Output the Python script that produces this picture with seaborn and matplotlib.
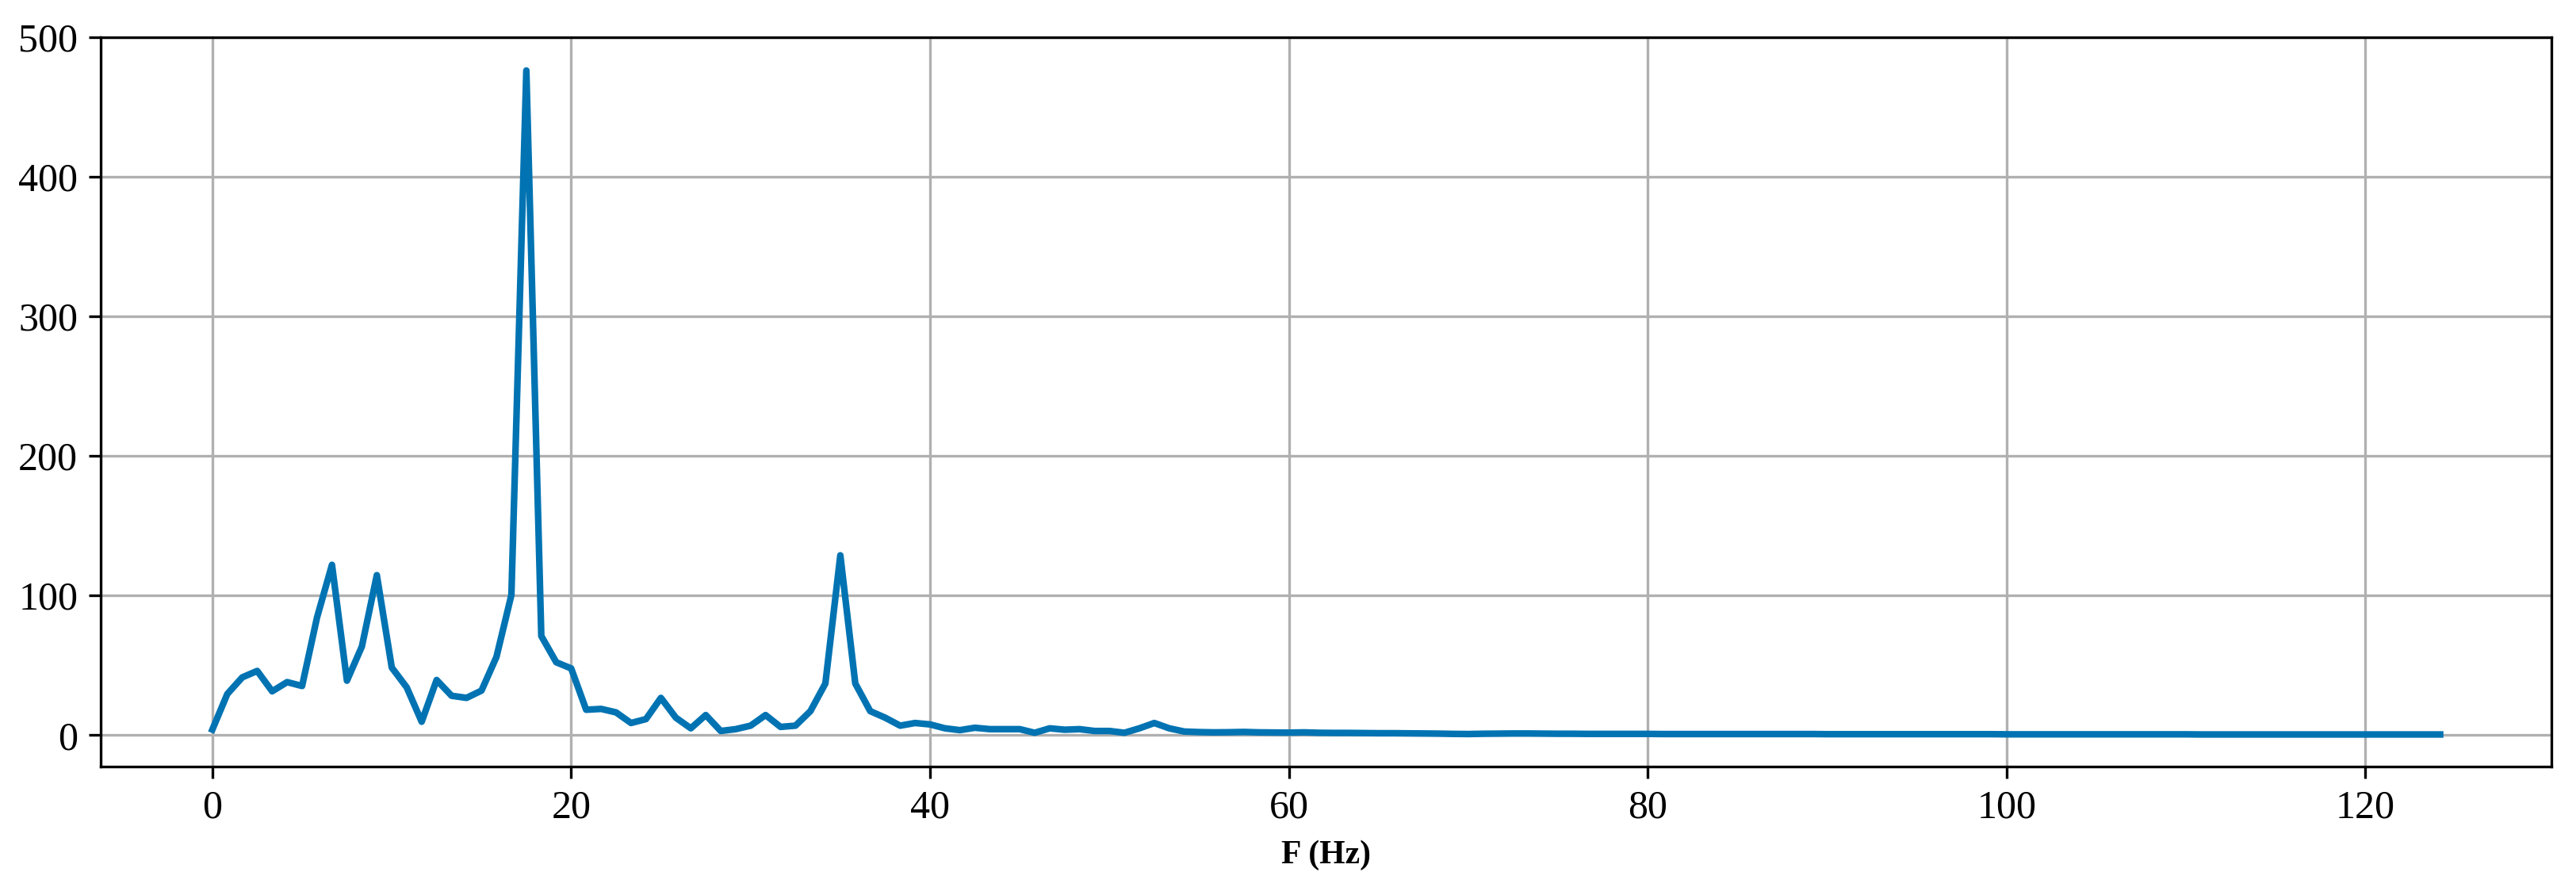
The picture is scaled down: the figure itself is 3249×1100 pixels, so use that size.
import numpy as np
import pandas as pd
import matplotlib
matplotlib.use("Agg")
import matplotlib.pyplot as plt
import seaborn as sns

# Frequency resolution of the spectrum (Hz per bin)
freq_step = 250 / 300

# Spectrum amplitudes, one per frequency bin
amplitude_low = [
    4.0, 29.5, 41.4, 46.0, 31.4, 38.0, 35.2, 84.3, 122.0, 39.0,
    63.5, 114.6, 48.4, 34.2, 9.6, 39.5, 28.2, 26.7, 31.9, 56.0,
    100.4, 476.0, 71.0, 52.2, 47.8, 18.2, 18.8, 16.3, 8.7, 11.5,
    26.7, 12.5, 4.9, 14.4, 3.0, 4.3, 6.8, 14.4, 5.9, 6.8,
    17.2, 37.0, 128.8, 37.0, 17.2, 12.5, 6.8, 8.7, 7.7, 4.9,
    3.6, 5.3, 4.3, 4.3, 4.3, 1.7, 4.9, 3.9, 4.3, 3.0,
    3.0, 1.7, 4.9, 8.7, 4.9, 2.6,
]
amplitude_tail = [
    2.2, 2.0, 2.1, 2.3, 2.0, 1.9, 1.8, 2.0, 1.7, 1.6,
    1.6, 1.5, 1.4, 1.4, 1.3, 1.2, 1.1, 0.9, 0.8, 1.0,
    1.1, 1.2, 1.2, 1.1, 1.0, 1.0, 0.9, 0.9, 0.9, 0.9,
    0.9, 0.8, 0.8, 0.8, 0.8, 0.8, 0.8, 0.8, 0.8, 0.8,
    0.8, 0.8, 0.7, 0.7, 0.7, 0.7, 0.7, 0.7, 0.7, 0.7,
    0.7, 0.7, 0.7, 0.7, 0.6, 0.6, 0.6, 0.6, 0.6, 0.6,
    0.6, 0.6, 0.6, 0.6, 0.6, 0.6, 0.6, 0.5, 0.5, 0.5,
    0.5, 0.5, 0.5, 0.5, 0.5, 0.5, 0.5, 0.5, 0.5, 0.5,
    0.5, 0.5, 0.5, 0.5,
]
amplitude = amplitude_low + amplitude_tail
freqs = np.arange(len(amplitude)) * freq_step

x_label = "F (Hz)"
line_color = sns.color_palette("colorblind")[0]

plt.rcParams["font.family"] = ["Liberation Serif", "DejaVu Serif"]
plt.rcParams["axes.grid"] = True
plt.rcParams["grid.color"] = "#b0b0b0"
plt.rcParams["grid.linewidth"] = 0.8

df = pd.DataFrame({"freq": freqs, "amp": amplitude})

fig, ax = plt.subplots(figsize=(3249 / 300, 1100 / 300), dpi=300)
sns.lineplot(data=df, x="freq", y="amp", ax=ax, color=line_color, linewidth=2.0)

ax.set_ylim(-22.5, 500)
ax.set_xlabel(x_label, fontsize=10, fontweight="bold")
ax.set_ylabel("")
ax.tick_params(axis="both", labelsize=12)
ax.grid(True, color="#b0b0b0", linewidth=0.8)
ax.set_axisbelow(True)

fig.subplots_adjust(left=0.0392, right=0.9905, top=0.9576, bottom=0.1209)
fig.savefig("out.png", dpi=300)
